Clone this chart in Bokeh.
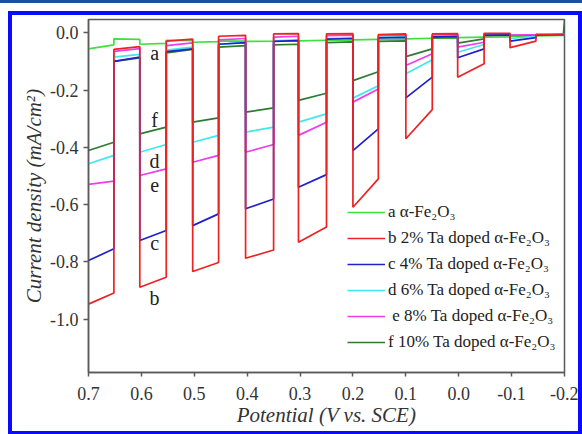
from bokeh.plotting import figure
from bokeh.models import Range1d, FixedTicker, Legend, LegendItem, Title
from bokeh.core.properties import value
from bokeh.embed import file_html
from bokeh.resources import INLINE

# ---------------- data ----------------
# chopped-light scan: potential where each light-on period starts / ends
on_start_x = [0.700, 0.603, 0.503, 0.403, 0.303, 0.200, 0.100, 0.002, -0.097]
on_end_x = [0.652, 0.553, 0.454, 0.350, 0.250, 0.152, 0.050, -0.048, -0.146]
scan_end_x = -0.200

# a  alpha-Fe2O3
a_light_start = [-0.056, -0.040, -0.033, -0.030, -0.028, -0.025, -0.021, -0.017, -0.013]
a_light_end = [-0.042, -0.037, -0.031, -0.029, -0.026, -0.023, -0.019, -0.015, -0.011]
a_dark_start = [-0.021, -0.026, -0.028, -0.028, -0.026, -0.023, -0.019, -0.015, -0.011]
a_dark_end = [-0.023, -0.027, -0.029, -0.028, -0.026, -0.023, -0.019, -0.014, -0.009]

# b  2% Ta
b_light_start = [-0.947, -0.888, -0.833, -0.787, -0.731, -0.609, -0.370, -0.155, -0.052]
b_light_end = [-0.908, -0.853, -0.802, -0.758, -0.678, -0.510, -0.268, -0.108, -0.029]
b_dark_start = [-0.058, -0.029, -0.012, -0.004, -0.004, -0.006, -0.004, -0.002, -0.006]
b_dark_end = [-0.048, -0.022, -0.009, -0.003, -0.003, -0.004, -0.003, -0.002, -0.008]

# c  4% Ta
c_light_start = [-0.795, -0.725, -0.673, -0.614, -0.539, -0.411, -0.227, -0.087, -0.029]
c_light_end = [-0.754, -0.690, -0.632, -0.580, -0.495, -0.335, -0.155, -0.056, -0.017]
c_dark_start = [-0.100, -0.066, -0.040, -0.030, -0.022, -0.018, -0.014, -0.008, -0.008]
c_dark_end = [-0.085, -0.056, -0.034, -0.027, -0.020, -0.016, -0.012, -0.007, -0.006]

# d  6% Ta
d_light_start = [-0.457, -0.417, -0.382, -0.347, -0.312, -0.228, -0.143, -0.068, -0.020]
d_light_end = [-0.428, -0.390, -0.358, -0.329, -0.283, -0.185, -0.094, -0.041, -0.012]
d_dark_start = [-0.085, -0.060, -0.040, -0.028, -0.020, -0.016, -0.012, -0.006, -0.006]
d_dark_end = [-0.075, -0.050, -0.034, -0.025, -0.018, -0.014, -0.010, -0.006, -0.005]

# e  8% Ta
e_light_start = [-0.529, -0.498, -0.452, -0.417, -0.358, -0.242, -0.114, -0.050, -0.008]
e_light_end = [-0.518, -0.475, -0.428, -0.390, -0.312, -0.196, -0.073, -0.033, -0.006]
e_dark_start = [-0.065, -0.045, -0.025, -0.015, -0.010, -0.010, -0.008, -0.004, -0.005]
e_dark_end = [-0.055, -0.035, -0.020, -0.012, -0.008, -0.008, -0.006, -0.004, -0.004]

# f  10% Ta
f_light_start = [-0.411, -0.353, -0.312, -0.277, -0.236, -0.167, -0.083, -0.036, -0.009]
f_light_end = [-0.382, -0.329, -0.297, -0.262, -0.211, -0.136, -0.056, -0.021, -0.008]
f_dark_start = [-0.100, -0.070, -0.050, -0.042, -0.034, -0.030, -0.018, -0.010, -0.008]
f_dark_end = [-0.088, -0.058, -0.045, -0.040, -0.032, -0.028, -0.016, -0.008, -0.004]
f_tail = 0.043

series_labels = ["a \u03b1-Fe\u2082O\u2083",
                 "b 2% Ta doped \u03b1-Fe\u2082O\u2083",
                 "c 4% Ta doped \u03b1-Fe\u2082O\u2083",
                 "d 6% Ta doped \u03b1-Fe\u2082O\u2083",
                 " e 8% Ta doped \u03b1-Fe\u2082O\u2083",
                 "f 10% Ta doped \u03b1-Fe\u2082O\u2083"]
series_colors = ["#3ee03e", "#ee2222", "#2020cc", "#3ee8ee", "#ee3cee", "#2f7a33"]

letter_text = ["a", "f", "d", "e", "c", "b"]
letter_x = [0.575, 0.575, 0.575, 0.575, 0.575, 0.575]
letter_y = [-0.069, -0.306, -0.446, -0.533, -0.735, -0.924]

x_ticks = [0.7, 0.6, 0.5, 0.4, 0.3, 0.2, 0.1, 0.0, -0.1, -0.2]
x_tick_labels = ["0.7", "0.6", "0.5", "0.4", "0.3", "0.2", "0.1", "0.0", "-0.1", "-0.2"]
y_ticks = [0.0, -0.2, -0.4, -0.6, -0.8, -1.0]
y_tick_labels = ["0.0", "-0.2", "-0.4", "-0.6", "-0.8", "-1.0"]
x_title = "Potential (V vs. SCE)"
y_title = "Current density (mA/cm\u00b2)"


def trace(ls, le, ds, de):
    xs, ys = [], []
    n = len(on_start_x)
    for i in range(n):
        dark_to = on_start_x[i + 1] if i + 1 < n else scan_end_x
        xs += [on_start_x[i], on_end_x[i], on_end_x[i], dark_to]
        ys += [ls[i], le[i], ds[i], de[i]]
    return xs, ys


traces = {
    "a": trace(a_light_start, a_light_end, a_dark_start, a_dark_end),
    "b": trace(b_light_start, b_light_end, b_dark_start, b_dark_end),
    "c": trace(c_light_start, c_light_end, c_dark_start, c_dark_end),
    "d": trace(d_light_start, d_light_end, d_dark_start, d_dark_end),
    "e": trace(e_light_start, e_light_end, e_dark_start, e_dark_end),
    "f": trace(f_light_start, f_light_end, f_dark_start, f_dark_end),
}
fx, fy = traces["f"]
fx = fx[:-1] + [scan_end_x + 0.002, scan_end_x]
fy = fy + [f_tail]
traces["f"] = (fx, fy)

# ---------------- figure ----------------
FONT = "Liberation Serif, DejaVu Serif"
p = figure(width=566, height=416, output_backend="svg", toolbar_location=None,
           x_range=Range1d(0.7, -0.2), y_range=Range1d(-1.1857, 0.0464),
           min_border_left=76, min_border_right=14, min_border_top=4, min_border_bottom=59)
p.margin = (15, 0, 0, 12)
p.styles = {
    "outline": "4px solid #0a0aff",
    "box-shadow": "0px 0px 0px 12px #ffffff, 0px -3px 0px 12px #1f4e9a",
}
p.background_fill_color = "white"
p.border_fill_color = "white"
p.grid.visible = False
p.outline_line_color = "#5a5a5a"
p.outline_line_width = 1.5

keys = ["a", "b", "c", "d", "e", "f"]
renderers = {}
for k in ["a", "f", "e", "d", "c", "b"]:
    i = keys.index(k)
    xs, ys = traces[k]
    renderers[k] = p.line(xs, ys, line_color=series_colors[i], line_width=1.7)

p.text(x=letter_x, y=letter_y, text=letter_text, text_font=value(FONT),
       text_font_size="20px", text_align="center", text_baseline="middle",
       text_color="#222222")

legend = Legend(items=[LegendItem(label=series_labels[i], renderers=[renderers[k]])
                       for i, k in enumerate(keys)],
                location=(259, 20), glyph_width=38, glyph_height=20, label_height=20,
                spacing=6, padding=0, margin=0, label_standoff=3,
                border_line_color=None, background_fill_alpha=0,
                label_text_font=FONT, label_text_font_size="17px",
                label_text_color="#222222")
p.add_layout(legend)

for ax in (p.xaxis[0], p.yaxis[0]):
    ax.axis_line_color = "#5a5a5a"
    ax.axis_line_width = 1.5
    ax.major_tick_line_color = "#5a5a5a"
    ax.major_tick_line_width = 1.5
    ax.major_tick_in = 0
    ax.minor_tick_line_color = None
    ax.major_label_text_font = FONT
    ax.major_label_text_font_size = "18px"
    ax.major_label_text_color = "#333333"
    ax.axis_label_text_font = FONT
    ax.axis_label_text_font_style = "italic"
    ax.axis_label_text_color = "#333333"

p.xaxis.ticker = FixedTicker(ticks=x_ticks)
p.xaxis.major_label_overrides = dict(zip(x_ticks, x_tick_labels))
p.xaxis.major_tick_out = 4
p.xaxis.major_label_standoff = 10
p.xaxis.axis_label = x_title
p.xaxis.axis_label_text_font_size = "21px"
p.xaxis.axis_label_standoff = 0

p.yaxis.ticker = FixedTicker(ticks=y_ticks)
p.yaxis.major_label_overrides = dict(zip(y_ticks, y_tick_labels))
p.yaxis.major_tick_out = 5
p.yaxis.major_label_standoff = 5

# y title as a side title, nudged down a little as in the original
p.add_layout(Title(text=y_title, align="center", offset=-24, standoff=3,
                   text_font=FONT, text_font_style="italic", text_font_size="21px",
                   text_color="#333333"), "left")

open("out.html", "w").write(file_html(p, INLINE))
